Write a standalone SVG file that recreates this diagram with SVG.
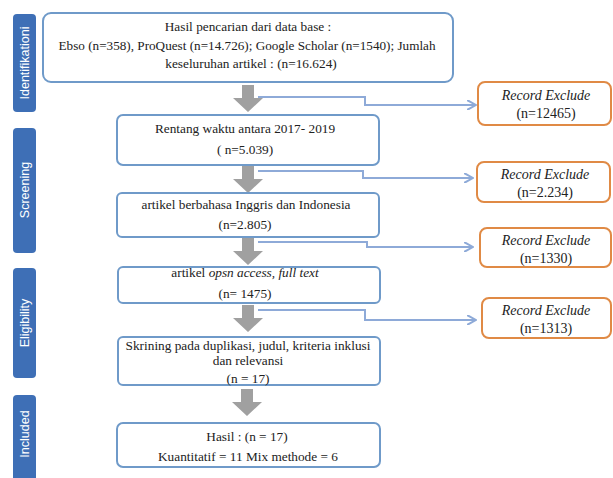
<svg xmlns="http://www.w3.org/2000/svg" width="613" height="478" viewBox="0 0 613 478">
<defs>
<style>
.side{fill:#3e6fb6}
.stxt{fill:#fff;font-family:"Liberation Sans",Arial,sans-serif;font-size:12.5px;text-anchor:middle}
.box{fill:#fff;stroke:#6f9ac9;stroke-width:2}
.ex{fill:#fff;stroke:#e08a45;stroke-width:2}
.t{font-family:'Liberation Serif','Times New Roman',serif;font-size:13.3px;fill:#222;text-anchor:middle}
.e{font-size:14px}
.i{font-style:italic}
.con{fill:none;stroke:#8eaad8;stroke-width:2}
.ga{fill:#a0a0a0}
</style>
<marker id="ah" markerWidth="10" markerHeight="10" refX="8" refY="5" orient="auto" markerUnits="userSpaceOnUse">
<path d="M0,0 L9,5 L0,10" fill="none" stroke="#8eaad8" stroke-width="2"/>
</marker>
<path id="garrow" d="M-6,0 H6 V13 H15 L0,27 L-15,13 H-6 Z"/>
</defs>
<rect width="613" height="478" fill="#fff"/>

<g id="side-identifikationi">
<rect class="side" x="13" y="14" width="23" height="98" rx="4"/>
<text class="stxt" transform="translate(29,63) rotate(-90)">Identifikationi</text>
</g>
<g id="side-screening">
<rect class="side" x="13" y="128" width="23" height="125" rx="4"/>
<text class="stxt" transform="translate(29,190) rotate(-90)">Screening</text>
</g>
<g id="side-eligibility">
<rect class="side" x="13" y="268" width="23" height="110" rx="4"/>
<text class="stxt" transform="translate(29,323) rotate(-90)">Eligibility</text>
</g>
<g id="side-included">
<rect class="side" x="13" y="395" width="23" height="90" rx="4"/>
<text class="stxt" transform="translate(29,434) rotate(-90)">Included</text>
</g>

<g id="connectors">
<path class="con" d="M258,97 H365 V105 H475" marker-end="url(#ah)"/>
<path class="con" d="M258,171 H363 V178 H472" marker-end="url(#ah)"/>
<path class="con" d="M258,242 H367 V247 H472" marker-end="url(#ah)"/>
<path class="con" d="M258,310 H365 V320 H475" marker-end="url(#ah)"/>
<use href="#garrow" class="ga" x="248" y="85"/>
<use href="#garrow" class="ga" x="248" y="166"/>
<use href="#garrow" class="ga" x="248" y="238"/>
<use href="#garrow" class="ga" x="248" y="305"/>
<use href="#garrow" class="ga" x="247" y="389"/>
</g>

<g id="n1">
<rect class="box" x="43" y="13" width="410" height="69" rx="8"/>
<text class="t" x="248" y="31">Hasil pencarian dari data base :</text>
<text class="t" x="247" y="50" textLength="377" lengthAdjust="spacingAndGlyphs">Ebso (n=358), ProQuest (n=14.726); Google Scholar (n=1540); Jumlah</text>
<text class="t" x="251" y="68">keseluruhan artikel : (n=16.624)</text>
</g>
<g id="n2">
<rect class="box" x="117" y="115" width="262" height="50" rx="6"/>
<text class="t" x="245" y="133">Rentang waktu antara 2017- 2019</text>
<text class="t" x="245" y="154">( n=5.039)</text>
</g>
<g id="n3">
<rect class="box" x="117" y="193" width="262" height="44" rx="5"/>
<text class="t" x="246" y="209">artikel  berbahasa Inggris dan Indonesia</text>
<text class="t" x="245" y="229">(n=2.805)</text>
</g>
<g id="n4">
<rect class="box" x="118" y="267" width="262" height="36" rx="5"/>
<text class="t" x="245" y="277">artikel  <tspan class="i">opsn access, full text</tspan></text>
<text class="t" x="245" y="298">(n= 1475)</text>
</g>
<g id="n5">
<rect class="box" x="118" y="337" width="262" height="48" rx="5"/>
<text class="t" x="248" y="350">Skrining  pada duplikasi, judul, kriteria  inklusi</text>
<text class="t" x="248" y="365">dan relevansi</text>
<text class="t" x="248" y="383">(n = 17)</text>
</g>
<g id="n6">
<rect class="box" x="117" y="423" width="263" height="44" rx="6"/>
<text class="t" x="247" y="441">Hasil : (n = 17)</text>
<text class="t" x="248" y="461">Kuantitatif  = 11 Mix methode = 6</text>
</g>

<g id="ex1">
<rect class="ex" x="478" y="82" width="133" height="43" rx="7"/>
<text class="t e i" x="546" y="100">Record Exclude</text>
<text class="t e" x="546" y="118">(n=12465)</text>
</g>
<g id="ex2">
<rect class="ex" x="477" y="162" width="133" height="40" rx="7"/>
<text class="t e i" x="545" y="179">Record Exclude</text>
<text class="t e" x="545" y="197">(n=2.234)</text>
</g>
<g id="ex3">
<rect class="ex" x="480" y="228" width="131" height="39" rx="7"/>
<text class="t e i" x="546" y="245">Record Exclude</text>
<text class="t e" x="546" y="263">(n=1330)</text>
</g>
<g id="ex4">
<rect class="ex" x="482" y="298" width="129" height="40" rx="7"/>
<text class="t e i" x="546" y="315">Record Exclude</text>
<text class="t e" x="546" y="333">(n=1313)</text>
</g>
</svg>
